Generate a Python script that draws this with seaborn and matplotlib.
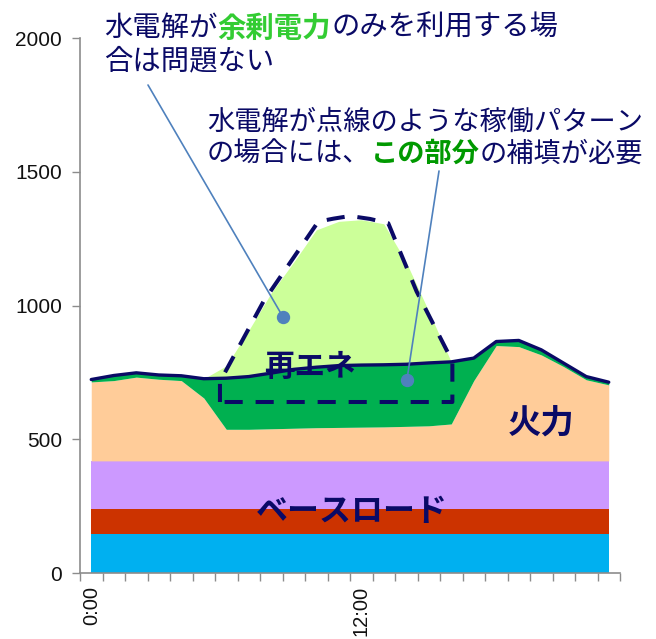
import numpy as np
import pandas as pd
import matplotlib
matplotlib.use("Agg")
import matplotlib.pyplot as plt
import seaborn as sns

# ---- hourly supply stack (MW) ----
hours = list(range(24))
hour_labels = ["0:00", "12:00"]
hour_label_pos = [0, 12]

baseload_nuclear = [145, 145, 145, 145, 145, 145, 145, 145, 145, 145, 145, 145,
                    145, 145, 145, 145, 145, 145, 145, 145, 145, 145, 145, 145]
baseload_hydro = [95, 95, 95, 95, 95, 95, 95, 95, 95, 95, 95, 95,
                  95, 95, 95, 95, 95, 95, 95, 95, 95, 95, 95, 95]
baseload_coal = [180, 180, 180, 180, 180, 180, 180, 180, 180, 180, 180, 180,
                 180, 180, 180, 180, 180, 180, 180, 180, 180, 180, 180, 180]
thermal = [295, 300, 313, 305, 300, 235, 118, 118, 120, 122, 124, 125,
           126, 127, 129, 131, 138, 300, 431, 427, 396, 352, 303, 284]
renewable_used = [9, 19, 16, 16, 18, 72, 191, 197, 208, 220, 226, 231,
                  232, 232, 232, 235, 232, 84, 15, 23, 19, 13, 12, 10]
renewable_surplus = [0, 0, 0, 0, 0, 0, 46, 173, 300, 401, 513, 539,
                     543, 527, 381, 193, 0, 0, 0, 0, 0, 0, 0, 0]

# electrolyser operating pattern (dashed outline)
electrolysis_hour = [5.72, 5.72, 7.65, 10.09, 10.76, 11.5, 12.39, 13.2,
                     14.46, 15.94, 16.05, 16.05, 5.72]
electrolysis_mw = [640, 716, 1015, 1314, 1325, 1335, 1324, 1308,
                   1053, 810, 790, 640, 640]

df = pd.DataFrame({
    "hour": hours,
    "nuclear": baseload_nuclear,
    "hydro": baseload_hydro,
    "coal": baseload_coal,
    "thermal": thermal,
    "renewable": renewable_used,
    "surplus": renewable_surplus,
})
df["demand"] = df[["nuclear", "hydro", "coal", "thermal", "renewable"]].sum(axis=1)

# ---- styling ----
sns.set_theme(style="white")
plt.rcParams["font.family"] = ["Noto Sans CJK JP", "DejaVu Sans"]

NAVY = "#0A0A66"
GRAY = "#8C8C8C"
CALLOUT = "#4F81BD"
layer_colors = ["#00B0F0", "#CC3300", "#CC99FF", "#FFCC99", "#00B050", "#CCFF99"]

W, H = 656, 639
fig = plt.figure(figsize=(W / 100, H / 100), dpi=100)
ax = fig.add_axes([80 / W, 1 - 573.3 / H, 540 / W, 535.3 / H])


def fig_xy(px, py):
    """pixel position (from top-left) -> figure fraction"""
    return px / W, 1 - py / H


ax.stackplot(df["hour"], df["nuclear"], df["hydro"], df["coal"], df["thermal"],
             df["renewable"], df["surplus"], colors=layer_colors,
             linewidth=0, zorder=1)

sns.lineplot(data=df, x="hour", y="demand", color=NAVY, linewidth=2.4,
             ax=ax, zorder=4, legend=False)

ax.plot(electrolysis_hour, electrolysis_mw, color=NAVY, linewidth=2.9,
        linestyle=(0, (4.5, 3.2)), zorder=5)

# ---- axes ----
ax.set_xlim(-0.5, 23.5)
ax.set_ylim(0, 2000)
ax.set_xlabel("")
ax.set_ylabel("")
ax.set_yticks([0, 500, 1000, 1500, 2000])
ax.set_xticks(hour_label_pos)
ax.set_xticklabels(hour_labels, rotation=90)
ax.set_xticks(np.arange(-0.5, 24, 1), minor=True)
ax.tick_params(axis="x", which="major", bottom=True, length=0, pad=9)
ax.tick_params(axis="x", which="minor", bottom=True, length=6, width=1,
               color=GRAY, direction="out")
ax.tick_params(axis="y", which="major", left=True, length=6, width=1,
               color=GRAY, direction="out", pad=7)
for lab in ax.get_xticklabels():
    lab.set_fontfamily("Liberation Sans")
    lab.set_fontsize(14.5)
    lab.set_color("#111111")
for lab in ax.get_yticklabels():
    lab.set_fontfamily("Liberation Sans")
    lab.set_fontsize(15)
    lab.set_color("#111111")
sns.despine(ax=ax)
for side in ("left", "bottom"):
    ax.spines[side].set_color(GRAY)
    ax.spines[side].set_linewidth(1.2)
ax.grid(False)

# ---- in-chart labels ----
ax.text(9.7, 771, "再エネ", color=NAVY, fontsize=22, fontweight="bold",
        ha="center", va="center", zorder=6)
ax.text(20.0, 562, "火力", color=NAVY, fontsize=24, fontweight="bold",
        ha="center", va="center", zorder=6)
ax.text(11.57, 229, "ベースロード", color=NAVY, fontsize=23, fontweight="bold",
        ha="center", va="center", zorder=6)


# ---- annotation texts with coloured highlights ----
def rich_line(px, py, parts, size=20):
    last = None
    for text, color, weight in parts:
        if last is None:
            last = fig.text(*fig_xy(px, py), text, color=color, fontsize=size,
                            fontweight=weight, ha="left", va="center")
        else:
            last = ax.annotate(text, xy=(1, 0), xycoords=last, color=color,
                               fontsize=size, fontweight=weight,
                               ha="left", va="bottom", annotation_clip=False)


rich_line(104, 28, [("水電解が", NAVY, "normal"),
                    ("余剰電力", "#33CC33", "bold"),
                    ("のみを利用する場", NAVY, "normal")], size=20.4)
rich_line(104, 61, [("合は問題ない", NAVY, "normal")], size=20.4)
rich_line(207, 122, [("水電解が点線のような稼働パターン", NAVY, "normal")], size=19.6)
rich_line(207, 154, [("の場合には、", NAVY, "normal"),
                     ("この部分", "#009900", "bold"),
                     ("の補填が必要", NAVY, "normal")], size=19.6)

# ---- callout leaders ----
for dot, start in (((8.52, 958), (148, 85)), ((14.03, 723), (439, 171))):
    ax.annotate("", xy=dot, xytext=fig_xy(*start), textcoords="figure fraction",
                arrowprops=dict(arrowstyle="-", color=CALLOUT, lw=1.2,
                                shrinkA=0, shrinkB=0), zorder=6)
    ax.plot(*dot, marker="o", markersize=8.6, color=CALLOUT, zorder=7)

fig.savefig("out.png", dpi=100)
